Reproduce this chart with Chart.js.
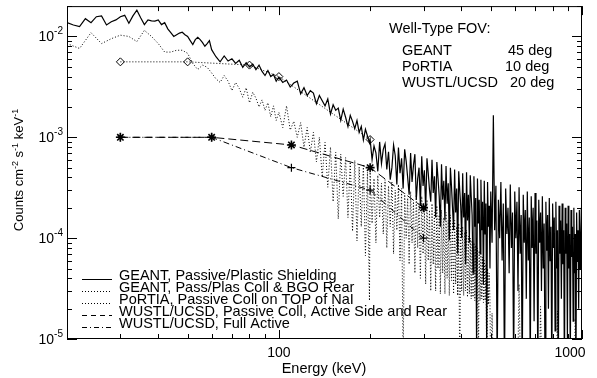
<!DOCTYPE html>
<html lang="en">
<head>
  <meta charset="UTF-8">
  <title>Well-Type FOV background spectra</title>
  <style>
    html, body { margin: 0; padding: 0; background: #fff; }
    #spec { display: block; }
  </style>
</head>
<body>
  <canvas id="spec" width="597" height="378"></canvas>

  <script src="https://cdn.jsdelivr.net/npm/chart.js@4"></script>
  <script>
    // ---- data (counts cm^-2 s^-1 keV^-1) ----
    // GEANT passive/plastic shielding, uniform bins: start keV, step keV, counts
    const geantLow = [1.37e-2, 1.30e-2, 1.25e-2, 1.50e-2, 1.37e-2, 1.57e-2, 1.60e-2, 1.30e-2, 1.40e-2, 1.46e-2,
                      1.57e-2, 1.62e-2, 1.35e-2, 1.60e-2, 1.82e-2, 1.53e-2, 1.31e-2, 1.46e-2, 1.43e-2, 1.42e-2,
                      1.46e-2, 1.31e-2, 1.37e-2, 1.19e-2, 1.09e-2, 1.00e-2, 1.04e-2, 1.08e-2, 1.10e-2, 1.04e-2,
                      1.00e-2, 9.1e-3, 8.3e-3, 9.3e-3, 9.8e-3, 9.3e-3, 8.7e-3, 8.0e-3, 8.5e-3, 9.1e-3];   // 20..59 by 1
    const geantMid = [7.4e-3, 6.3e-3, 5.6e-3, 6.4e-3, 5.7e-3, 6.0e-3, 5.4e-3, 5.8e-3, 4.95e-3, 5.5e-3,
                      5.0e-3, 5.3e-3, 4.7e-3, 5.2e-3, 4.5e-3, 4.1e-3, 4.6e-3, 4.0e-3, 4.2e-3, 3.6e-3];  // 60..98 by 2
    const geantHi1 = [3.96e-3, 3.5e-3, 3.7e-3, 3.15e-3, 3.45e-3, 3.6e-3, 2.7e-3, 3.1e-3, 2.6e-3, 2.9e-3,
                      2.75e-3, 2.15e-3, 2.6e-3, 2.3e-3, 2.05e-3, 2.4e-3, 1.7e-3, 2.1e-3, 1.85e-3, 1.95e-3,
                      1.47e-3, 1.9e-3, 1.58e-3, 1.28e-3, 1.65e-3, 1.44e-3, 1.22e-3, 1.47e-3, 1.12e-3, 1.28e-3,
                      9.4e-4, 1.2e-3, 1.03e-3, 8.8e-4];                                                  // 100..199 by 3
    const geantHi2 = [9.5e-4, 6.0e-4, 8.2e-4, 7.0e-4, 4.6e-4, 9.0e-4, 5.5e-4, 7.6e-4, 8.6e-4, 4.8e-4,
                      7.2e-4, 3.8e-4, 5.0e-4, 8.4e-4, 6.6e-4, 3.4e-4, 7.9e-4, 4.4e-4, 6.2e-4, 3.1e-4,
                      7.6e-4, 5.8e-4, 4.0e-4, 2.7e-4, 7.0e-4, 3.6e-4, 5.3e-4, 6.8e-4, 2.4e-4, 3.9e-4,
                      5.0e-4, 2.1e-4, 6.5e-4, 3.3e-4, 4.7e-4, 1.9e-4, 6.2e-4, 4.4e-4, 3.0e-4, 2.3e-4,
                      6.0e-4, 2.8e-4, 4.1e-4, 1.6e-4, 5.7e-4, 3.9e-4, 2.6e-4, 1.3e-4, 5.4e-4, 2.4e-4,
                      3.7e-4, 1.5e-4, 5.2e-4, 2.2e-4, 3.5e-4, 9.5e-5, 5.0e-4, 3.3e-4, 2.0e-4, 1.2e-4,
                      4.8e-4, 1.8e-4, 3.1e-4, 7.0e-5, 4.6e-4, 3.0e-4, 2.1e-4, 1.0e-4, 4.4e-4, 1.6e-4,
                      2.8e-4, 5.5e-5, 4.5e-4, 1.5e-4, 2.7e-4, 9.0e-5, 4.2e-4, 2.6e-4, 1.7e-4, 4.5e-5,
                      4.1e-4, 1.3e-4, 2.5e-4, 8.0e-6, 3.9e-4, 1.4e-4, 2.4e-4, 7.0e-5, 3.8e-4, 1.2e-4,
                      2.3e-4, 3.5e-5, 3.7e-4, 1.1e-4, 2.2e-4, 6.0e-6, 3.6e-4, 1.3e-4, 2.1e-4, 5.0e-5]; // 200..497 by 3
    const geantHi3 = [2.9e-4, 9e-5, 1.65e-3, 1.2e-4, 3.3e-4, 5e-6, 2.4e-4, 1.0e-4, 3.6e-4, 6e-5,
                      2.2e-4, 4e-6, 3.1e-4, 1.1e-4, 2.0e-4, 4.5e-5, 3.4e-4, 8e-5, 1.8e-4, 5e-6,
                      2.9e-4, 1.0e-4, 2.3e-4, 3e-5, 3.2e-4, 7e-5, 1.7e-4, 4e-6, 2.7e-4, 9e-5,
                      1.9e-4, 2.5e-5, 2.9e-4, 6e-5, 1.6e-4, 5e-6, 2.6e-4, 8e-5, 2.0e-4, 1.5e-5,
                      2.8e-4, 7e-5, 1.5e-4, 4e-6, 2.4e-4, 9e-5, 1.8e-4, 3e-5, 2.6e-4, 5e-5,
                      1.4e-4, 5e-6, 2.3e-4, 7.5e-5, 1.7e-4, 2e-5, 2.5e-4, 6e-5, 1.3e-4, 4e-6,
                      2.2e-4, 8e-5, 1.6e-4, 1.2e-5, 2.3e-4, 5e-5, 1.2e-4, 3e-6, 2.1e-4, 7e-5,
                      1.5e-4, 2.5e-5, 2.2e-4, 5.5e-5, 1.2e-4, 4e-6, 2.0e-4, 7e-5, 1.4e-4, 1.0e-5,
                      2.1e-4, 5e-5, 1.1e-4, 5e-6, 1.9e-4, 6.5e-5, 1.3e-4, 1.5e-5, 2.0e-4, 4.5e-5,
                      1.1e-4, 4e-6, 1.8e-4, 6e-5, 1.2e-4, 2e-5, 1.9e-4, 5e-5, 1.0e-4, 2.0e-4];       // 500..995 by 5

    // GEANT Pass/Plas coll & BGO rear
    const plasLow = [8.5e-3, 7.6e-3, 1.09e-2, 8.5e-3, 9.5e-3, 1.03e-2, 1.0e-2, 8.9e-3, 1.15e-2, 1.0e-2,
                     8.5e-3, 7.0e-3, 7.0e-3, 7.3e-3, 7.3e-3, 6.8e-3, 5.4e-3, 4.7e-3, 5.2e-3, 4.95e-3,
                     4.35e-3, 3.8e-3, 3.5e-3, 4.1e-3, 3.6e-3, 2.9e-3, 3.5e-3, 3.05e-3, 2.5e-3, 3.1e-3,
                     2.2e-3, 2.8e-3, 2.45e-3, 2.0e-3, 2.35e-3, 1.85e-3, 2.2e-3, 1.6e-3, 2.05e-3, 1.47e-3]; // 20..98 by 2
    const plasMid = [1.77e-3, 1.25e-3, 2.05e-3, 1.18e-3, 1.44e-3, 1.0e-3, 1.4e-3, 8.0e-4, 1.25e-3, 7.1e-4,
                     1.12e-3, 5.7e-4, 1.0e-3, 4.05e-4, 8.9e-4, 3.2e-4, 8.0e-4, 2.3e-4, 7.1e-4, 1.55e-4,
                     6.8e-4, 2.6e-4, 6.3e-4, 1.6e-4, 5.7e-4, 1.17e-4, 5.9e-4, 9.4e-5, 5.1e-4, 1.3e-4,
                     5.4e-4, 6.7e-5, 4.5e-4, 2.4e-5];                                                   // 100..199 by 3
    const plasHi = [4.5e-4, 1.4e-4, 3.9e-4, 9e-5, 4.2e-4, 1.6e-4, 3.5e-4, 1.1e-4, 3.8e-4, 8e-5,
                    3.3e-4, 1.3e-4, 3.6e-4, 7e-5, 3.0e-4, 1.2e-4, 3.4e-4, 6e-5, 3.1e-4, 5e-6,
                    2.8e-4, 1.0e-4, 2.5e-4, 5.5e-5, 2.9e-4, 9e-5, 2.3e-4, 4.5e-5, 2.7e-4, 8e-5,
                    2.2e-4, 4e-5, 2.6e-4, 7e-5, 2.0e-4, 3.5e-5, 2.4e-4, 6e-5, 1.9e-4, 3e-5,
                    2.2e-4, 5.5e-5, 1.8e-4, 3e-5, 2.1e-4, 5e-5, 1.7e-4, 2.8e-5, 1.9e-4, 4.5e-5,
                    1.6e-4, 2.8e-5, 1.8e-4, 4e-5, 1.5e-4, 2.7e-5, 1.7e-4, 3.8e-5, 1.4e-4, 2.8e-5,
                    1.5e-4, 3.5e-5, 1.3e-4, 2.7e-5, 1.4e-4, 5e-6, 1.25e-4, 3e-5, 1.3e-4, 2.7e-5,
                    1.15e-4, 3e-5, 1.2e-4, 2.6e-5, 1.05e-4, 2.8e-5, 1.0e-4, 2.5e-5, 9.5e-5, 2.6e-5,
                    9e-5, 2.4e-5, 8.5e-5, 2.6e-5, 8e-5, 4e-6, 7.5e-5, 2.4e-5, 7e-5, 2.5e-5,
                    6.5e-5, 2.3e-5, 6e-5, 2.4e-5, 5.5e-5, 4e-6, 5e-5, 2.2e-5, 4.5e-5, 2.4e-5];      // 200..497 by 3
    const plasTailE = [500, 505, 512, 612, 620, 628, 722, 730, 738, 822, 830, 838, 942, 950, 958, 1000];
    const plasTailC = [3e-6, 1.8e-5, 3e-6, 3e-6, 3.5e-5, 3e-6, 3e-6, 2.1e-5, 3e-6, 3e-6, 1.9e-5, 3e-6, 3e-6, 1.6e-5, 3e-6, 3e-6];

    // PoRTIA passive coll on top of NaI
    const portiaE = [30, 50, 80, 100, 200];
    const portiaC = [5.6e-3, 5.6e-3, 5.2e-3, 4.0e-3, 9.5e-4];

    // WUSTL/UCSD
    const wustlE = [30, 60, 110, 200, 300];
    const wustlPassiveC = [1.0e-3, 1.0e-3, 8.4e-4, 5.0e-4, 2.0e-4];
    const wustlActiveC = [1.0e-3, 1.0e-3, 5.0e-4, 3.0e-4, 1.0e-4];

    const xMajor = [100, 1000];
    const xMinor = [20, 30, 40, 50, 60, 70, 80, 90, 200, 300, 400, 500, 600, 700, 800, 900];
    const yMajor = [1e-5, 1e-4, 1e-3, 1e-2];
    const yExp = ['-5', '-4', '-3', '-2'];

    const legendLabels = [
      'GEANT, Passive/Plastic Shielding',
      'GEANT, Pass/Plas Coll & BGO Rear',
      'PoRTIA, Passive Coll on TOP of NaI',
      'WUSTL/UCSD, Passive Coll, Active Side and Rear',
      'WUSTL/UCSD, Full Active'
    ];
    const legendDash = [[], [1, 2], [1, 2], [5, 4], [5, 3, 1, 3]];
    const fovNames = ['GEANT', 'PoRTIA', 'WUSTL/UCSD'];
    const fovValues = ['45 deg', '10 deg', '20 deg'];

    // ---- helpers ----
    function bins(start, step, counts) {
      return counts.map((c, i) => ({ x: start + i * step, y: c }));
    }
    function pairs(es, cs) {
      return es.map((e, i) => ({ x: e, y: cs[i] }));
    }

    const FONT = '"Liberation Sans", Arial, Helvetica, sans-serif';

    // frame, inward ticks, tick labels, axis titles, legend and FOV note
    const decor = {
      id: 'decor',
      afterDatasetsDraw(chart) {
        const { ctx, chartArea: a, scales: { x, y } } = chart;
        ctx.save();
        ctx.strokeStyle = '#000';
        ctx.fillStyle = '#000';
        ctx.lineWidth = 1;
        ctx.setLineDash([]);
        ctx.strokeRect(a.left + 0.5, a.top + 0.5, a.right - a.left - 1, a.bottom - a.top - 1);

        ctx.beginPath();
        xMinor.concat(xMajor).forEach(v => {
          const len = xMajor.includes(v) ? 9 : 5;
          const px = Math.round(x.getPixelForValue(v)) + 0.5;
          ctx.moveTo(px, a.bottom); ctx.lineTo(px, a.bottom - len);
          ctx.moveTo(px, a.top); ctx.lineTo(px, a.top + len);
        });
        yMajor.forEach(d => {
          for (let m = 1; m <= 9; m++) {
            const v = d * m;
            if (v > y.max) break;
            const len = m === 1 ? 10 : 5;
            const py = Math.round(y.getPixelForValue(v)) + 0.5;
            ctx.moveTo(a.left, py); ctx.lineTo(a.left + len, py);
            ctx.moveTo(a.right, py); ctx.lineTo(a.right - len, py);
          }
        });
        ctx.stroke();

        // y tick labels 10^n
        ctx.textBaseline = 'middle';
        yMajor.forEach((v, i) => {
          const py = y.getPixelForValue(v);
          ctx.font = '10px ' + FONT;
          ctx.textAlign = 'right';
          ctx.fillText(yExp[i], 63, py - 5);
          const ew = ctx.measureText(yExp[i]).width;
          ctx.font = '14px ' + FONT;
          ctx.fillText('10', 63 - ew, py + 1);
        });

        // x tick labels
        ctx.font = '14px ' + FONT;
        ctx.textAlign = 'center';
        ctx.textBaseline = 'alphabetic';
        ctx.fillText('100', x.getPixelForValue(100), 357);
        ctx.fillText('1000', x.getPixelForValue(1000) - 12, 357);
        ctx.font = '14.5px ' + FONT;
        ctx.fillText('Energy (keV)', 324, 373);

        // y axis title with superscripts
        ctx.save();
        ctx.translate(23, 170);
        ctx.rotate(-Math.PI / 2);
        const parts = [['Counts cm', 0], ['-2', 1], [' s', 0], ['-1', 1], [' keV', 0], ['-1', 1]];
        let total = 0;
        parts.forEach(p => {
          ctx.font = (p[1] ? '9px ' : '13px ') + FONT;
          total += ctx.measureText(p[0]).width;
        });
        let cx = -total / 2;
        ctx.textAlign = 'left';
        parts.forEach(p => {
          ctx.font = (p[1] ? '9px ' : '13px ') + FONT;
          ctx.fillText(p[0], cx, p[1] ? -5 : 0);
          cx += ctx.measureText(p[0]).width;
        });
        ctx.restore();

        // legend
        ctx.font = '14.5px ' + FONT;
        ctx.textAlign = 'left';
        legendLabels.forEach((t, i) => {
          const base = 279.5 + i * 12.2;
          ctx.setLineDash(legendDash[i]);
          ctx.beginPath();
          ctx.moveTo(82, Math.round(base) - 0.5);
          ctx.lineTo(112, Math.round(base) - 0.5);
          ctx.stroke();
          ctx.setLineDash([]);
          ctx.fillText(t, 119, base);
        });

        // FOV note
        ctx.fillText('Well-Type FOV:', 389, 33);
        fovNames.forEach((n, i) => {
          ctx.fillText(n, 402, 55 + i * 16);
        });
        ctx.fillText(fovValues[0], 508, 55);
        ctx.fillText(fovValues[1], 505, 71);
        ctx.fillText(fovValues[2], 510, 87);
        ctx.restore();
      }
    };

    const ctx = document.getElementById('spec').getContext('2d');
    new Chart(ctx, {
      type: 'line',
      data: {
        datasets: [
          {
            label: legendLabels[0],
            data: [...bins(20, 1, geantLow), ...bins(60, 2, geantMid), ...bins(100, 3, geantHi1),
                   ...bins(200, 3, geantHi2), ...bins(500, 5, geantHi3)],
            borderColor: '#000', borderWidth: 1.2, pointRadius: 0, tension: 0, clip: 0
          },
          {
            label: legendLabels[1],
            data: [...bins(20, 2, plasLow), ...bins(100, 3, plasMid), ...bins(200, 3, plasHi),
                   ...pairs(plasTailE, plasTailC)],
            borderColor: '#000', borderWidth: 1, borderDash: [1, 2], pointRadius: 0, tension: 0, clip: 0
          },
          {
            label: legendLabels[2],
            data: pairs(portiaE, portiaC),
            borderColor: '#000', borderWidth: 1, borderDash: [1, 2],
            pointStyle: 'rectRot', pointRadius: 4, pointBorderWidth: 1,
            pointBackgroundColor: 'rgba(0,0,0,0)', pointBorderColor: '#000', clip: 0
          },
          {
            label: legendLabels[3],
            data: pairs(wustlE, wustlPassiveC),
            borderColor: '#000', borderWidth: 1, borderDash: [8, 4],
            pointStyle: 'star', pointRadius: 4.5, pointBorderWidth: 1.6,
            pointBorderColor: '#000', clip: 0
          },
          {
            label: legendLabels[4],
            data: pairs(wustlE, wustlActiveC),
            borderColor: '#000', borderWidth: 1, borderDash: [6, 3, 1, 3],
            pointStyle: 'cross', pointRadius: 4, pointBorderWidth: 1.2,
            pointBorderColor: '#000', clip: 0
          }
        ]
      },
      options: {
        responsive: false,
        animation: false,
        layout: { padding: { left: 67, right: 15, top: 3, bottom: 39 } },
        plugins: { legend: { display: false }, tooltip: { enabled: false } },
        scales: {
          x: { type: 'logarithmic', min: 20, max: 1000, display: false },
          y: { type: 'logarithmic', min: 1e-5, max: 2e-2, display: false }
        }
      },
      plugins: [decor]
    });
  </script>
</body>
</html>
